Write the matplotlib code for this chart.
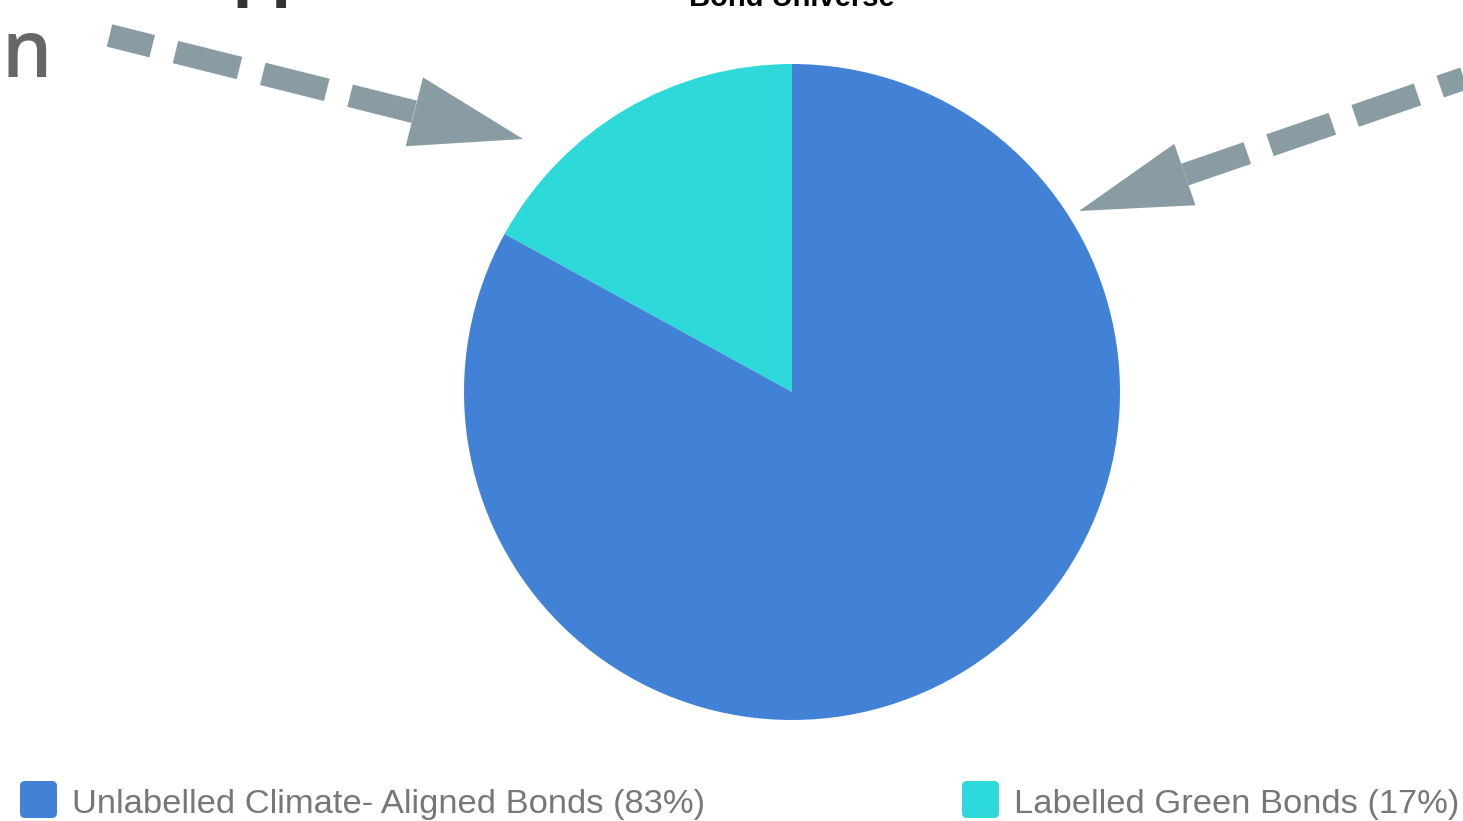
import numpy as np
import matplotlib.pyplot as plt
from matplotlib.patches import Polygon, FancyBboxPatch

plt.rcParams['font.family'] = ['Liberation Sans', 'DejaVu Sans']
plt.rcParams['lines.scale_dashes'] = False

W, H = 1463, 821

labels = ['Unlabelled Climate- Aligned Bonds', 'Labelled Green Bonds']
shares = [83, 17]
colors = ['#4282D6', '#2DD9D9']
title = 'Bond Universe'

ARROW = '#8A9CA3'
PT = 0.72  # points per pixel at dpi 100


def px(x, y):
    return x, H - y


def dashed_arrow(ax, start, tip, head_len, head_w, offset=0.0, reverse=False):
    sx, sy = px(*start)
    tx, ty = px(*tip)
    u = np.array([tx - sx, ty - sy], dtype=float)
    u /= np.hypot(*u)
    base = np.array([tx, ty]) - u * head_len
    n = np.array([-u[1], u[0]])
    if reverse:
        xs, ys = [base[0], sx], [base[1], sy]
    else:
        xs, ys = [sx, base[0]], [sy, base[1]]
    ax.plot(xs, ys, color=ARROW, lw=23 * PT, solid_capstyle='butt',
            dash_capstyle='butt',
            linestyle=(offset * PT, (66 * PT, 24 * PT)), zorder=3)
    head = Polygon([[tx, ty], base + n * head_w / 2, base - n * head_w / 2],
                   closed=True, color=ARROW, lw=0, zorder=4)
    ax.add_patch(head)


fig = plt.figure(figsize=(W / 100, H / 100), dpi=100)
ax = fig.add_axes([0, 0, 1, 1])

# pie: small slice first so it sits left of 12 o'clock
ax.pie(shares[::-1], colors=colors[::-1], startangle=90, counterclock=True,
       center=px(792, 392), radius=328, wedgeprops=dict(linewidth=0))

# arrows pointing at the pie
dashed_arrow(ax, (109.5, 35.5), (523, 139), 112, 71, offset=22)
dashed_arrow(ax, (1185 + 0.9455 * 400, 174.5 - 0.3256 * 400), (1079, 211),
             112, 65, reverse=True)

# leftover text from the surrounding page
ax.text(*px(1, 77), 'n', fontsize=57, color='#666666', ha='left',
        va='baseline', fontweight='semibold', family=['Open Sans', 'DejaVu Sans'])
ax.text(*px(232, -4), 'pp', fontsize=40, color='#333333', ha='left',
        va='baseline', fontweight='bold', family=['DejaVu Sans'])
ax.text(*px(792, 6), title, fontsize=21, fontweight='bold', color='black',
        ha='center', va='baseline')

# legend
legend_x = [20, 962]
for lx, lab, val, col in zip(legend_x, labels, shares, colors):
    x0, y0 = px(lx, 818)
    box = FancyBboxPatch((x0 + 3, y0 + 3), 31, 31,
                         boxstyle='round,pad=3,rounding_size=5',
                         facecolor=col, edgecolor='none')
    ax.add_patch(box)
    ax.text(*px(lx + 52, 804), f'{lab} ({val}%)', fontsize=24.8,
            color='#777777', ha='left', va='center')

ax.set_xlim(0, W)
ax.set_ylim(0, H)
ax.set_aspect('auto')
ax.axis('off')

fig.savefig('out.png', dpi=100)
